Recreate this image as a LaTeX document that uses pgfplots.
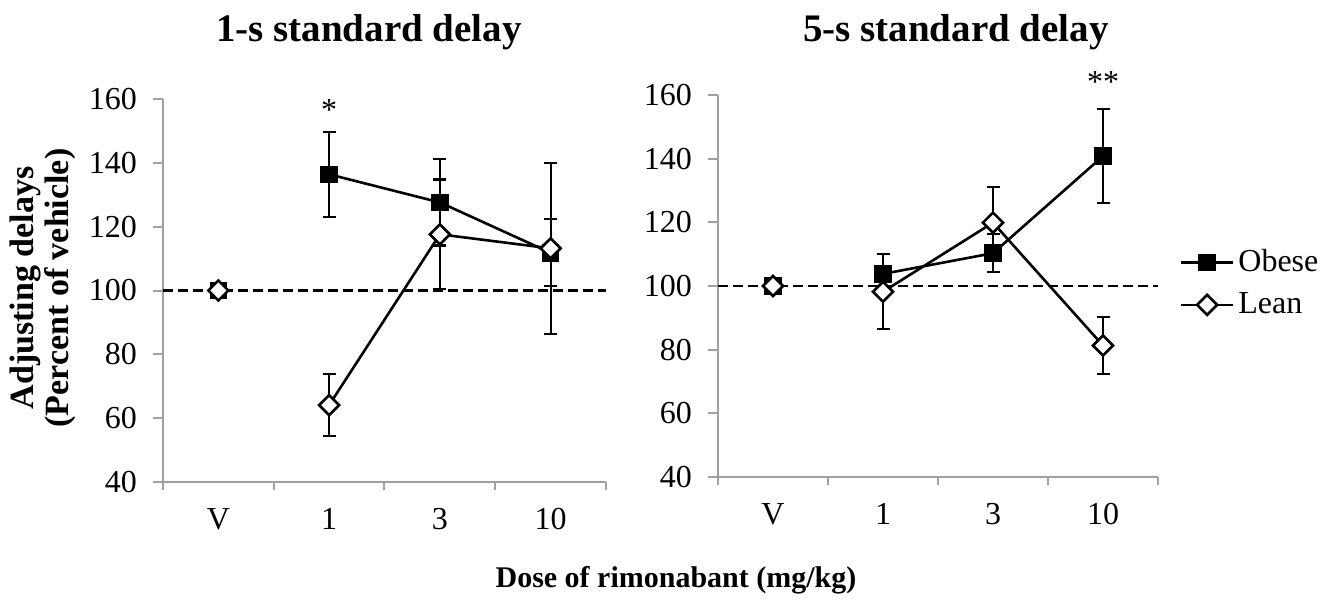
\documentclass[border=0pt]{standalone}
\usepackage{fontspec}
\setmainfont{Liberation Serif}
\usepackage{pgfplots}
\pgfplotsset{compat=1.18}

\definecolor{axgray}{RGB}{160,160,160}

\pgfplotsset{
  dosepanel/.style={
    scale only axis,
    xmin=-0.5, xmax=3.5, ymin=40, ymax=160,
    axis x line*=bottom, axis y line*=left,
    axis line style={axgray, line width=1pt},
    xtick={0,1,2,3}, xticklabels={V,1,3,10},
    minor xtick={-0.5,0.5,1.5,2.5,3.5},
    ytick={40,60,...,160},
    tick align=outside,
    major x tick style={draw=none},
    minor x tick style={axgray, line width=1pt},
    y tick style={axgray, line width=1pt},
    major tick length=5pt, minor tick length=4pt,
    ticklabel style={font=\fontsize{16}{18}\selectfont},
    xticklabel style={yshift=-4.5pt},
    yticklabel style={xshift=-4.5pt},
    /pgf/number format/assume math mode=true,
    clip=false,
  },
  obese/.style={black, line width=1.3pt, mark=square*, mark size=3.75pt,
    mark options={solid, fill=black}},
  lean/.style={black, line width=1.3pt, mark=square*, mark size=3.54pt,
    mark options={solid, fill=white, rotate=45}},
  errs/.style={error bars/.cd, y dir=both, y explicit,
    error bar style={line width=1.1pt, solid},
    error mark options={rotate=90, mark size=3.25pt, line width=1.1pt}},
  refline/.style={black, line width=1.4pt, dash pattern=on 5pt off 2.5pt, forget plot},
}

\begin{document}
\begin{tikzpicture}
\path[use as bounding box] (-81.5pt,-59.5pt) rectangle (587pt,241pt);

% 1-s standard delay
\begin{axis}[dosepanel, width=221.5pt, height=191.5pt,
  at={(0pt,0pt)}, anchor=south west]
\addplot[refline] coordinates {(-0.5,100) (3.5,100)};
\addplot[obese, only marks, forget plot] coordinates {(0,100)};
\addplot[obese, errs] coordinates {
  (1,136.4) +- (0,13.3)
  (2,127.6) +- (0,13.5)
  (3,111.8) +- (0,10.5)
};
\addplot[lean, only marks, forget plot] coordinates {(0,100)};
\addplot[lean, errs] coordinates {
  (1,64.1) +- (0,9.7)
  (2,117.6) +- (0,17.2)
  (3,113.2) +- (0,26.8)
};
\node[font=\fontsize{16}{18}\selectfont] at (axis cs:1,156.5) {*};
\end{axis}

% 5-s standard delay
\begin{axis}[dosepanel, width=220pt, height=191pt,
  at={(277.5pt,2.5pt)}, anchor=south west,
  legend style={draw=none, fill=none, at={(1.035,0.507)}, anchor=west,
    font=\fontsize{16}{18}\selectfont, row sep=5pt},
  legend cell align=left,
  legend image code/.code={\draw[mark repeat=2,mark phase=2]
    plot coordinates {(0pt,0pt) (13pt,0pt) (26pt,0pt)};}]
\addplot[refline] coordinates {(-0.5,100) (3.5,100)};
\addplot[obese, only marks, forget plot] coordinates {(0,100)};
\addplot[obese, errs] coordinates {
  (1,103.8) +- (0,6.3)
  (2,110.3) +- (0,6.0)
  (3,140.8) +- (0,14.8)
};
\addplot[lean, only marks, forget plot] coordinates {(0,100)};
\addplot[lean, errs] coordinates {
  (1,98.2) +- (0,11.8)
  (2,119.9) +- (0,11.3)
  (3,81.3) +- (0,9.0)
};
\legend{Obese,Lean}
\node[font=\fontsize{16}{18}\selectfont] at (axis cs:3,164) {**};
\end{axis}

\node[font=\bfseries\fontsize{19.5}{22}\selectfont] at (103pt,225pt) {1-s standard delay};
\node[font=\bfseries\fontsize{19.5}{22}\selectfont] at (396.5pt,225pt) {5-s standard delay};
\node[font=\bfseries\fontsize{17}{17.5}\selectfont, rotate=90, align=center]
  at (-60pt,97pt) {Adjusting delays\\(Percent of vehicle)};
\node[font=\bfseries\fontsize{15}{17}\selectfont] at (256.5pt,-49pt) {Dose of rimonabant (mg/kg)};
\end{tikzpicture}
\end{document}
